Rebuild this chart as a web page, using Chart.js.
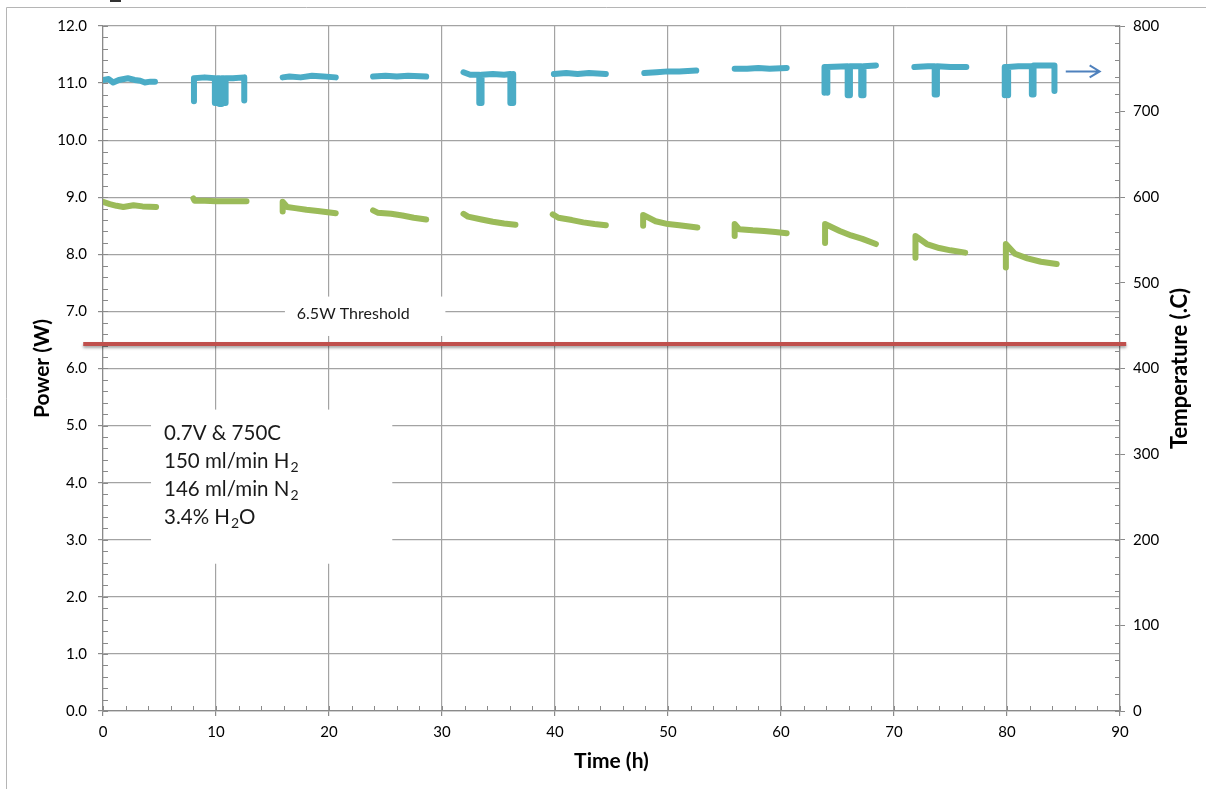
<!DOCTYPE html>
<html><head><meta charset="utf-8">
<script src="https://cdn.jsdelivr.net/npm/chart.js@4/dist/chart.umd.min.js"></script>
<style>html,body{margin:0;padding:0;background:#fff;}#wrap{width:1206px;height:789px;position:relative;}canvas{display:block;}</style>
</head><body><div id="wrap"><canvas id="c" width="1206" height="789" style="width:1206px;height:789px"></canvas></div>
<script>
// ---------- data ----------
const xTickLabels = ['0','10','20','30','40','50','60','70','80','90'];
const powerTickLabels = ['0.0','1.0','2.0','3.0','4.0','5.0','6.0','7.0','8.0','9.0','10.0','11.0','12.0'];
const tempTickLabels = ['0','100','200','300','400','500','600','700','800'];

// Temperature (right axis, deg C); null = gap between test blocks
const tempTime = [
  0.0,0.5,0.9,1.4,2.2,2.8,3.3,3.7,4.2,4.6, 6,
  8.05,8.05,9.0,9.9,9.9,10.1,10.1,10.3,10.3,10.5,10.5,10.7,10.7,10.85,10.85,11.5,12.5,12.5, 14,
  15.9,16.5,17.5,18.5,19.5,20.6, 22,
  23.9,25.0,26.0,27.0,28.6, 30,
  31.9,32.5,33.3,33.3,33.5,33.5,34.5,35.5,36.05,36.05,36.3,36.3, 38,
  39.9,41.0,42.0,43.0,44.5, 46,
  47.9,49.0,50.0,51.0,52.5, 54,
  55.9,57.0,58.0,59.0,60.5, 62,
  63.85,63.85,64.1,64.1,64.1,65.9,65.9,66.1,66.1,67.1,67.1,67.3,67.3,68.4, 70,
  71.8,73.0,73.6,73.6,73.8,73.8,75.0,76.4, 78,
  79.8,79.8,80.1,80.1,80.1,81.0,82.2,82.2,82.35,82.35,83.5,84.2,84.2
];
const tempValues = [
  737,738,734,737,739,737,736,734,735,735, null,
  712,739,740,739,710,710,739,739,709,709,739,739,710,710,739,739,740,713, null,
  740,741,740,742,741,740, null,
  741,742,741,742,741, null,
  746,743,743,710,710,743,744,743,744,710,710,744, null,
  744,745,744,745,744, null,
  745,746,747,747,748, null,
  750,750,751,750,751, null,
  722,752,752,722,752,753,719,719,753,753,719,719,753,754, null,
  752,753,753,720,720,753,752,752, null,
  719,752,752,719,752,753,753,720,720,754,754,754,724
];

// Power (left axis, W)
const powerTime = [
  0.0,0.6,1.2,1.8,2.7,3.5,4.7, 6,
  8.0,8.1,9.0,10.0,11.0,12.0,12.7, 14,
  15.9,15.9,16.3,17.0,18.0,19.0,20.6, 22,
  23.9,24.3,25.5,26.5,27.5,28.6, 30,
  31.9,32.3,33.5,34.5,35.5,36.5, 38,
  39.8,40.3,41.5,42.5,43.5,44.5, 46,
  47.8,47.8,48.9,50.0,51.0,52.6, 54,
  55.9,55.9,56.3,57.5,58.5,59.5,60.5, 62,
  63.9,63.9,65.2,66.2,67.2,68.4, 70,
  71.9,71.9,72.9,74.0,75.0,76.3, 78,
  79.9,79.9,80.7,81.8,83.0,84.4
];
const powerValues = [
  8.92,8.88,8.85,8.83,8.86,8.84,8.83, null,
  8.98,8.94,8.94,8.93,8.93,8.93,8.93, null,
  8.75,8.92,8.83,8.81,8.78,8.76,8.72, null,
  8.77,8.73,8.71,8.68,8.64,8.61, null,
  8.71,8.66,8.61,8.57,8.54,8.52, null,
  8.70,8.64,8.60,8.56,8.53,8.51, null,
  8.50,8.69,8.58,8.53,8.51,8.47, null,
  8.32,8.53,8.44,8.42,8.41,8.39,8.37, null,
  8.20,8.53,8.41,8.33,8.27,8.18, null,
  7.94,8.32,8.18,8.11,8.07,8.03, null,
  7.77,8.18,8.01,7.93,7.87,7.83
];

const thresholdPower = 6.43;
const thresholdLabel = '6.5W Threshold';
const arrowTemp = 747;
const noteLines = [
  [['0.7V & 750C','']],
  [['150 ml/min H',''],['2','sub']],
  [['146 ml/min N',''],['2','sub']],
  [['3.4% H',''],['2','sub'],['O','']]
];

// ---------- helpers ----------
const toXY = (xs, ys) => xs.map((x, i) => ({x: x, y: ys[i]}));
const FONT = 'Lato, "Open Sans", sans-serif';
const GRID = '#a3a3a3';
const AXIS = '#8a8a8a';

const decor = {
  id: 'decor',
  beforeDatasetsDraw(chart) {
    const {ctx, scales} = chart;
    const x = scales.x, y = scales.y, y1 = scales.y1;
    ctx.save();
    ctx.strokeStyle = AXIS; ctx.lineWidth = 1;
    ctx.beginPath();
    for (let v = 0; v <= 12.0001; v += 0.2) {
      const py = Math.round(y.getPixelForValue(v)) + 0.5;
      ctx.moveTo(x.left, py); ctx.lineTo(x.left + 5, py);
    }
    for (let v = 0; v <= 800; v += 20) {
      const py = Math.round(y1.getPixelForValue(v)) + 0.5;
      ctx.moveTo(x.right - 5, py); ctx.lineTo(x.right, py);
    }
    for (let v = 0; v <= 90; v += 2) {
      const px = Math.round(x.getPixelForValue(v)) + 0.5;
      ctx.moveTo(px, y.bottom); ctx.lineTo(px, y.bottom - 5);
    }
    ctx.stroke();
    // white label boxes
    ctx.fillStyle = '#ffffff';
    const bx1 = x.getPixelForValue(16.1), bx2 = x.getPixelForValue(30.3);
    const by1 = y.getPixelForValue(7.26), by2 = y.getPixelForValue(6.57);
    ctx.fillRect(bx1, by1, bx2 - bx1, by2 - by1);
    const nx1 = x.getPixelForValue(4.25), nx2 = x.getPixelForValue(25.6);
    const ny1 = y.getPixelForValue(5.28), ny2 = y.getPixelForValue(2.58);
    ctx.fillRect(nx1, ny1, nx2 - nx1, ny2 - ny1);
    // threshold label
    ctx.fillStyle = '#1a1a1a';
    ctx.font = '16px ' + FONT;
    ctx.textBaseline = 'middle';
    ctx.textAlign = 'left';
    ctx.fillText(thresholdLabel, x.getPixelForValue(17.15), y.getPixelForValue(6.95));
    // condition note
    let ly = y.getPixelForValue(4.86);
    const lx = x.getPixelForValue(5.4);
    noteLines.forEach(parts => {
      let cx = lx;
      parts.forEach(([t, kind]) => {
        if (kind === 'sub') {
          ctx.font = '14px ' + FONT;
          ctx.fillText(t, cx, ly + 6);
        } else {
          ctx.font = '20.5px ' + FONT;
          ctx.fillText(t, cx, ly);
        }
        cx += ctx.measureText(t).width + (kind === 'sub' ? 0 : 1);
      });
      ly += 28;
    });
    ctx.restore();
  },
  afterDatasetsDraw(chart) {
    const {ctx, scales} = chart;
    const x = scales.x, y = scales.y, y1 = scales.y1;
    ctx.save();
    const ty = y.getPixelForValue(thresholdPower);
    ctx.shadowColor = 'rgba(0,0,0,0.35)';
    ctx.shadowBlur = 3; ctx.shadowOffsetY = 2;
    ctx.strokeStyle = '#c0504d'; ctx.lineWidth = 4;
    ctx.beginPath();
    ctx.moveTo(x.getPixelForValue(-1.75), ty);
    ctx.lineTo(x.getPixelForValue(90.55), ty);
    ctx.stroke();
    ctx.shadowColor = 'transparent';
    const ay = y1.getPixelForValue(arrowTemp);
    const ax1 = x.getPixelForValue(85.2), ax2 = x.getPixelForValue(88.2);
    ctx.strokeStyle = '#4f81bd'; ctx.lineWidth = 2;
    ctx.beginPath();
    ctx.moveTo(ax1, ay); ctx.lineTo(ax2, ay);
    ctx.moveTo(ax2 - 10, ay - 6); ctx.lineTo(ax2, ay); ctx.lineTo(ax2 - 10, ay + 6);
    ctx.stroke();
    ctx.restore();
  },
  afterDraw(chart) {
    const {ctx, scales} = chart;
    const y1 = scales.y1;
    ctx.save();
    ctx.translate(1180, (y1.top + y1.bottom) / 2);
    ctx.rotate(-Math.PI / 2);
    ctx.font = 'bold 22px ' + FONT;
    ctx.fillStyle = '#000';
    ctx.textAlign = 'center'; ctx.textBaseline = 'middle';
    ctx.fillText('Temperature (.C)', 0, 0);
    ctx.restore();
    ctx.save();
    ctx.strokeStyle = '#b5b5b5'; ctx.lineWidth = 1;
    ctx.beginPath();
    ctx.moveTo(6.5, 789); ctx.lineTo(6.5, 7.5); ctx.lineTo(1206, 7.5);
    ctx.stroke();
    ctx.fillStyle = '#333';
    ctx.fillRect(110, 0, 11, 2);
    ctx.restore();
  }
};

new Chart(document.getElementById('c'), {
  type: 'line',
  data: {
    datasets: [
      {
        label: 'Temperature',
        data: toXY(tempTime, tempValues),
        yAxisID: 'y1',
        borderColor: '#4bacc6',
        backgroundColor: '#4bacc6',
        borderWidth: 6,
        borderCapStyle: 'round',
        borderJoinStyle: 'round',
        pointRadius: 0,
        spanGaps: false,
        tension: 0
      },
      {
        label: 'Power',
        data: toXY(powerTime, powerValues),
        yAxisID: 'y',
        borderColor: '#9bbb59',
        backgroundColor: '#9bbb59',
        borderWidth: 6,
        borderCapStyle: 'round',
        borderJoinStyle: 'round',
        pointRadius: 0,
        spanGaps: false,
        tension: 0
      }
    ]
  },
  options: {
    responsive: false,
    maintainAspectRatio: false,
    animation: false,
    devicePixelRatio: 1,
    layout: {padding: {top: 26, left: 0, right: 0, bottom: 0}},
    plugins: {legend: {display: false}, tooltip: {enabled: false}},
    scales: {
      x: {
        type: 'linear', position: 'bottom', min: 0, max: 90,
        afterFit: s => { s.height = 78; },
        afterBuildTicks: s => { s.ticks = xTickLabels.map(v => ({value: +v})); },
        ticks: {autoSkip: false, maxRotation: 0, padding: 7, color: '#000', font: {family: FONT, size: 15},
                callback: (v, i) => xTickLabels[i]},
        grid: {color: GRID, lineWidth: 1.2, tickLength: 5, tickColor: AXIS},
        border: {color: AXIS, width: 1.2},
        title: {display: true, text: 'Time (h)', color: '#000',
                font: {family: FONT, size: 21, weight: 'bold'}, padding: {top: 0, bottom: 15}}
      },
      y: {
        type: 'linear', position: 'left', min: 0, max: 12,
        afterFit: s => { s.width = 103; },
        afterBuildTicks: s => { s.ticks = powerTickLabels.map(v => ({value: +v})); },
        ticks: {autoSkip: false, padding: 11, color: '#000', font: {family: FONT, size: 15},
                callback: (v, i) => powerTickLabels[i]},
        grid: {color: GRID, lineWidth: 1.2, tickLength: 5, tickColor: AXIS},
        border: {color: AXIS, width: 1.2},
        title: {display: true, text: 'Power (W)', color: '#000',
                font: {family: FONT, size: 21, weight: 'bold'}, padding: {top: 30, bottom: 0}}
      },
      y1: {
        type: 'linear', position: 'right', min: 0, max: 800,
        afterFit: s => { s.width = 86; },
        afterBuildTicks: s => { s.ticks = tempTickLabels.map(v => ({value: +v})); },
        ticks: {autoSkip: false, padding: 8, color: '#000', font: {family: FONT, size: 15},
                callback: (v, i) => tempTickLabels[i]},
        grid: {drawOnChartArea: false, tickLength: 5, tickColor: AXIS},
        border: {color: AXIS, width: 1.2}
      }
    }
  },
  plugins: [decor]
});
</script></body></html>
